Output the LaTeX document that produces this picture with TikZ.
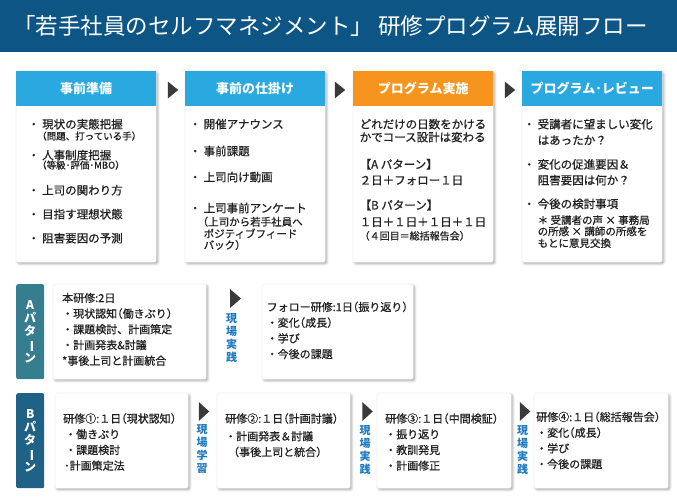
\documentclass[tikz,border=0pt]{standalone}
\usepackage{fontspec}
\setmainfont{Noto Sans CJK JP}
\newfontfamily\medfont{Noto Sans CJK JP}[RawFeature={embolden=0.8}]
\usepackage{graphicx}
\usetikzlibrary{shapes.geometric, positioning, shadows.blur}

\definecolor{titlebar}{HTML}{0C5585}
\definecolor{headblue}{HTML}{2AA8E0}
\definecolor{headorange}{HTML}{F7941D}
\definecolor{tagteal}{HTML}{367E8F}
\definecolor{tagblue}{HTML}{1F6285}
\definecolor{fieldblue}{HTML}{1F7BC1}
\definecolor{pointgray}{HTML}{3A3A3A}
\definecolor{bodytext}{HTML}{222222}

\newcommand{\titlefont}{\fontsize{22.5}{24}\selectfont}
\newcommand{\headfont}{\bfseries\fontsize{13}{14}\selectfont}
\newcommand{\cardfont}{\medfont\fontsize{11.5}{12}\selectfont}
\newcommand{\cardsub}{\fontsize{10.5}{12}\selectfont}
\newcommand{\cardnote}{\fontsize{9.5}{12}\selectfont}
\newcommand{\rowfont}{\medfont\fontsize{11}{15.7}\selectfont}
\newcommand{\itm}{\makebox[17pt][c]{・}}
\newcommand{\lp}{\makebox[0.5em][r]{（}}
\newcommand{\rp}{\makebox[0.5em][l]{）}}

\tikzstyle{card} = [rectangle, rounded corners=2pt, fill=white, draw=black!6, inner sep=0pt, anchor=north west, blur shadow={shadow xshift=1.5pt, shadow yshift=-1.5pt, shadow blur radius=2.5pt, shadow opacity=35}]
\tikzstyle{head} = [rectangle, anchor=north west, inner sep=0pt, minimum width=140pt, minimum height=35pt, text=white, font=\headfont]
\tikzstyle{tag} = [rectangle, rounded corners=2pt, anchor=north west, inner sep=0pt, minimum width=28pt, minimum height=95pt, text=white, align=center, font=\bfseries\fontsize{12}{13.3}\selectfont]
\tikzstyle{pointer} = [rectangle, inner sep=0pt, minimum width=10.5pt, minimum height=17pt, path picture={\fill[pointgray] (path picture bounding box.north west) -- (path picture bounding box.east) -- (path picture bounding box.south west) -- cycle;}]
\tikzstyle{field} = [align=center, inner sep=0pt, text=fieldblue, font=\bfseries\fontsize{11}{13}\selectfont]
\tikzstyle{body} = [anchor=north west, align=left, inner sep=0pt, text=bodytext]

\begin{document}
\begin{tikzpicture}[x=1pt, y=-1pt]
\useasboundingbox (0,0) rectangle (677,500);

% title
\node (bar) [rectangle, fill=titlebar, anchor=north west, inner sep=0pt, minimum width=677pt, minimum height=52pt] at (0,0) {};
\node (title) [anchor=west, inner sep=0pt, text=white, font=\titlefont] at (13,26) {「若手社員のセルフマネジメント」 研修プログラム展開フロー};

% top flow
\node (prep) [card, minimum width=140pt, minimum height=191pt] at (16,71) {};
\node (hook) [card, minimum width=140pt, minimum height=191pt] at (185,71) {};
\node (run) [card, minimum width=140pt, minimum height=191pt] at (353,71) {};
\node (review) [card, minimum width=140pt, minimum height=191pt] at (522,71) {};

\node (prephead) [head, fill=headblue] at (prep.north west) {事前準備};
\node (hookhead) [head, fill=headblue] at (hook.north west) {事前の仕掛け};
\node (runhead) [head, fill=headorange] at (run.north west) {プログラム実施};
\node (reviewhead) [head, fill=headblue] at (review.north west) {プログラム･レビュー};

\node (p1) [pointer] at (173,90) {};
\node (p2) [pointer] at (340,90) {};
\node (p3) [pointer] at (510,90) {};

\node (prepbody) [body, font=\cardfont] at (25,118.6) {\itm 現状の実態把握\\[-0.8pt]
  {\cardnote\hspace*{12pt}（問題、打っている手）}\\[7.8pt]
  \itm 人事制度把握\\[-2.8pt]
  {\cardnote\hspace*{12pt}（等級･評価･MBO）}\\[13.8pt]
  \itm 上司の関わり方\\[12pt]
  \itm 目指す理想状態\\[12pt]
  \itm 阻害要因の予測};

\node (hookbody) [body, font=\cardfont] at (186.5,118.6) {\itm 開催アナウンス\\[15pt]
  \itm 事前課題\\[14pt]
  \itm 上司向け動画\\[19pt]
  \itm 上司事前アンケート\\[1.3pt]
  {\cardsub\hspace*{11pt}（上司から若手社員へ}\\[0pt]
  {\cardsub\hspace*{17pt}ポジティブフィード}\\[-0.7pt]
  {\cardsub\hspace*{17pt}バック）}};

\node (runbody) [body, font=\cardfont] at (359.5,118.6) {どれだけの日数をかける\\[1pt]
  かでコース設計は変わる\\[15.2pt]
  【A パターン】\\[3.8pt]
  ２日＋フォロー１日\\[13pt]
  【B パターン】\\[4.7pt]
  １日＋１日＋１日＋１日\\[1.5pt]
  {\fontsize{10}{12}\selectfont（４回目＝総括報告会）}};

\node (reviewbody) [body, font=\cardfont] at (520.5,118.6) {\itm 受講者に望ましい変化\\[4pt]
  \hspace*{17pt}はあったか？\\[12.2pt]
  \itm 変化の促進要因＆\\[3.8pt]
  \hspace*{17pt}阻害要因は何か？\\[11.7pt]
  \itm 今後の検討事項\\[3.9pt]
  {\cardsub\hspace*{17pt}＊ 受講者の声 × 事務局}\\[-0.8pt]
  {\cardsub\hspace*{17pt}の所感 × 講師の所感を}\\[-0.2pt]
  {\cardsub\hspace*{17pt}もとに意見交換}};

% A pattern
\node (tagA) [tag, fill=tagteal] at (16,284) {A\\パ\\タ\\\rotatebox[origin=c]{-90}{ー}\\ン};
\node (coreA) [card, minimum width=153pt, minimum height=95pt] at (53,284) {};
\node (followA) [card, minimum width=151pt, minimum height=95pt] at (262,284) {};
\node (pA) [pointer, minimum width=11pt, minimum height=19pt] at (235.5,298.5) {};
\node (fieldA) [field] at (231.5,338) {現\\場\\実\\践};

\node (coreAtext) [body, font=\rowfont] at (62,292.6) {本研修:2日\\
  ・現状認知\lp 働きぶり\rp\\
  ・課題検討、計画策定\\
  ・計画発表\&討議\\
  *事後上司と計画統合};
\node (followAtext) [body, font=\rowfont] at (266.5,301.5) {フォロー研修:1日\lp 振り返り\rp\\
  ・変化\lp 成長\rp\\
  ・学び\\
  ・今後の課題};

% B pattern
\node (tagB) [tag, fill=tagblue] at (16,393) {B\\パ\\タ\\\rotatebox[origin=c]{-90}{ー}\\ン};
\node (b1) [card, minimum width=133pt, minimum height=95pt] at (55,393) {};
\node (b2) [card, minimum width=133pt, minimum height=95pt] at (217,393) {};
\node (b3) [card, minimum width=134pt, minimum height=95pt] at (377,393) {};
\node (b4) [card, minimum width=134pt, minimum height=95pt] at (534,393) {};
\node (pB1) [pointer, minimum height=19pt] at (204,411.5) {};
\node (pB2) [pointer, minimum height=19pt] at (367.5,411.5) {};
\node (pB3) [pointer, minimum height=19pt] at (525,411.5) {};
\node (fieldB1) [field] at (202,449) {現\\場\\学\\習};
\node (fieldB2) [field] at (365,450) {現\\場\\実\\践};
\node (fieldB3) [field] at (522.5,450) {現\\場\\実\\践};

\node (b1text) [body, font=\rowfont] at (63,413.1) {研修①:１日\lp 現状認知\rp\\
  \hspace*{2pt}・働きぶり\\
  \hspace*{2pt}・課題検討\\
  \hspace*{1pt}･計画策定法};
\node (b2text) [body, font=\rowfont] at (225,413.1) {研修②:１日\lp 計画討議\rp\\[2pt]
  ・計画発表＆討議\\
  \hspace*{3pt}（事後上司と統合）};
\node (b3text) [body, font=\rowfont] at (385,413.1) {研修③:１日\lp 中間検証\rp\\
  ・振り返り\\
  ・教訓発見\\
  ・計画修正};
\node (b4text) [body, font=\rowfont] at (536,411.5) {研修④:１日\lp 総括報告会\rp\\
  ・変化\lp 成長\rp\\
  ・学び\\
  ・今後の課題};

\end{tikzpicture}
\end{document}
